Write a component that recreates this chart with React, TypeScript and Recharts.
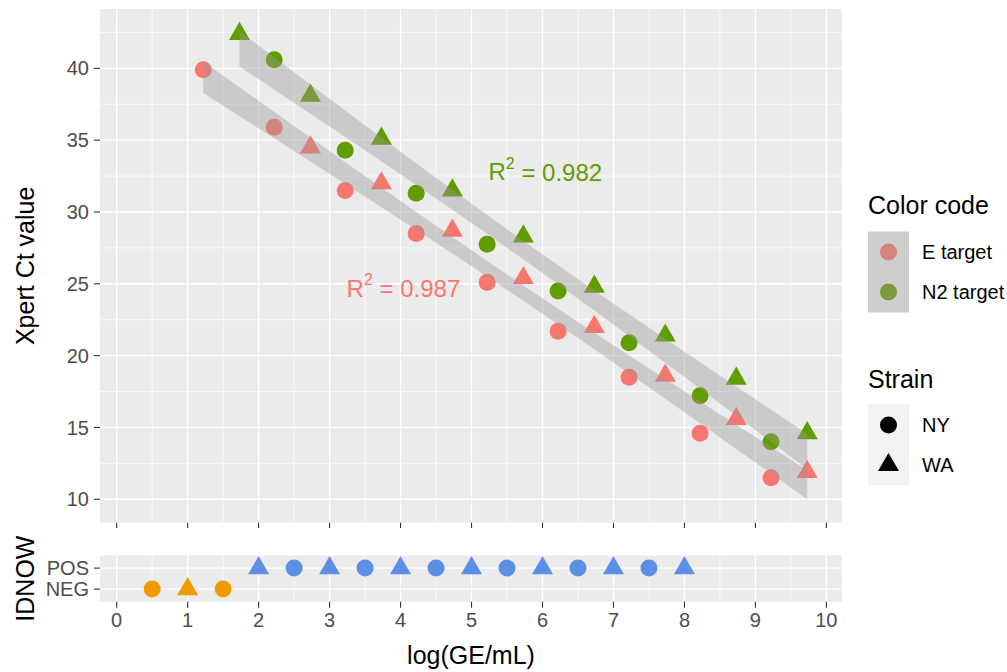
import React from "react";
import { Area, CartesianGrid, ComposedChart, Scatter, XAxis, YAxis } from "recharts";

// x positions, log(GE/mL)
const nyX = [1.22, 2.22, 3.22, 4.22, 5.22, 6.22, 7.22, 8.22, 9.22];
const waX = [1.73, 2.73, 3.73, 4.73, 5.73, 6.73, 7.73, 8.73, 9.73];

// Xpert Ct values (null = no value at that dilution)
const eNY = [39.9, 35.9, 31.5, 28.5, 25.1, 21.7, 18.5, 14.6, 11.5];
const eWA = [null, 34.5, 32.0, 28.7, 25.4, 22.0, 18.6, 15.6, 11.9];
const n2NY = [null, 40.6, 34.3, 31.3, 27.75, 24.5, 20.9, 17.2, 14.0];
const n2WA = [42.4, 38.1, 35.1, 31.5, 28.3, 24.8, 21.4, 18.4, 14.6];

// R² annotations
const r2Text = ["0.987", "0.982"];
const r2Pos = [
  { x: 4.04, y: 24.7 },
  { x: 6.04, y: 32.8 },
];

// IDNOW results
const idnowX = [0.5, 1, 1.5, 2, 2.5, 3, 3.5, 4, 4.5, 5, 5.5, 6, 6.5, 7, 7.5, 8];
const idnowResult = ["NEG", "NEG", "NEG", "POS", "POS", "POS", "POS", "POS", "POS", "POS", "POS", "POS", "POS", "POS", "POS", "POS"];
const idnowStrain = ["NY", "WA", "NY", "WA", "NY", "WA", "NY", "WA", "NY", "WA", "NY", "WA", "NY", "WA", "NY", "WA"];
const idnowLevels = ["NEG", "POS"];

// axis ticks
const xTicks = [0, 1, 2, 3, 4, 5, 6, 7, 8, 9, 10];
const xMinor = [0.5, 1.5, 2.5, 3.5, 4.5, 5.5, 6.5, 7.5, 8.5, 9.5];
const ctTicks = [10, 15, 20, 25, 30, 35, 40];
const ctMinor = [12.5, 17.5, 22.5, 27.5, 32.5, 37.5, 42.5];

const targets = ["E target", "N2 target"];
const targetColors = ["#F8766D", "#619C00"];
const targetKeyColors = ["#D2847F", "#799B3D"];
const strains = ["NY", "WA"];
const idnowColors: Record<string, string> = { NEG: "#EE9A00", POS: "#5D8FE6" };

const FONT = '"Liberation Sans", Arial, sans-serif';
const T_975_DF15 = 2.131; // t quantile for 95% band, n = 17

const pts = (xs: number[], ys: (number | null)[]) =>
  xs.map((x, i) => ({ x, y: ys[i] })).filter((d) => d.y != null) as { x: number; y: number }[];

// lm fit + 95% confidence band like geom_smooth(method = "lm")
function lmBand(data: { x: number; y: number }[]) {
  const n = data.length;
  const xb = data.reduce((s, d) => s + d.x, 0) / n;
  const yb = data.reduce((s, d) => s + d.y, 0) / n;
  let sxx = 0, sxy = 0, syy = 0;
  data.forEach((d) => {
    sxx += (d.x - xb) ** 2;
    sxy += (d.x - xb) * (d.y - yb);
    syy += (d.y - yb) ** 2;
  });
  const b = sxy / sxx;
  const a = yb - b * xb;
  const s = Math.sqrt((syy - b * sxy) / (n - 2));
  const xs = Array.from(new Set(data.map((d) => d.x))).sort((p, q) => p - q);
  return xs.map((x) => {
    const fit = a + b * x;
    const h = T_975_DF15 * s * Math.sqrt(1 / n + (x - xb) ** 2 / sxx);
    return { x, band: [fit - h, fit + h] };
  });
}

function Marker({ cx, cy, fill, tri }: any) {
  if (cx == null || cy == null) return null;
  if (tri) {
    const a = 21;
    const h = (a * Math.sqrt(3)) / 2;
    return <path d={`M${cx},${cy - (2 * h) / 3}L${cx + a / 2},${cy + h / 3}L${cx - a / 2},${cy + h / 3}Z`} fill={fill} />;
  }
  return <circle cx={cx} cy={cy} r={8.5} fill={fill} />;
}

const eData = [...pts(nyX, eNY), ...pts(waX, eWA)];
const n2Data = [...pts(nyX, n2NY), ...pts(waX, n2WA)];
const bands = [lmBand(eData), lmBand(n2Data)];

const idnowData = idnowX.map((x, i) => ({
  x,
  y: idnowLevels.indexOf(idnowResult[i]),
  res: idnowResult[i],
  strain: idnowStrain[i],
}));

const tickStyle = { fill: "#4D4D4D", fontSize: 20 };
const tickLineStyle = { stroke: "#333333", strokeWidth: 1.1 };

export default function App() {
  return (
    <div style={{ position: "absolute", left: 0, top: 0, width: 1007, height: 672, background: "#fff", fontFamily: FONT }}>
      <div style={{ position: "absolute", left: 0, top: 0 }}>
        <ComposedChart width={1007} height={528} margin={{ top: 9, right: 165, bottom: 0, left: 0 }}>
          <CartesianGrid verticalValues={xMinor} horizontalValues={ctMinor} stroke="#FFFFFF" strokeWidth={0.7} fill="#EBEBEB" />
          <CartesianGrid verticalValues={xTicks} horizontalValues={ctTicks} stroke="#FFFFFF" strokeWidth={1.4} />
          <XAxis
            type="number"
            dataKey="x"
            domain={[-0.235, 10.22]}
            allowDataOverflow
            ticks={xTicks}
            interval={0}
            tickFormatter={() => ""}
            height={5.3}
            tickSize={6}
            axisLine={false}
            tickLine={tickLineStyle}
          />
          <YAxis
            type="number"
            dataKey="y"
            domain={[8.37, 44.13]}
            allowDataOverflow
            ticks={ctTicks}
            interval={0}
            width={100}
            tickSize={6}
            tickMargin={5}
            axisLine={false}
            tick={tickStyle}
            tickLine={tickLineStyle}
            label={(p: any) => {
              const vb = p.viewBox;
              const cy = vb.y + vb.height / 2;
              return (
                <text x={25} y={cy} transform={`rotate(-90 25 ${cy})`} textAnchor="middle" dominantBaseline="central" fontSize={25} fill="#000">
                  Xpert Ct value
                </text>
              );
            }}
          />
          <Scatter data={pts(nyX, eNY)} dataKey="y" isAnimationActive={false} shape={(p: any) => <Marker {...p} fill={targetColors[0]} />} />
          <Scatter data={pts(waX, eWA)} dataKey="y" isAnimationActive={false} shape={(p: any) => <Marker {...p} tri fill={targetColors[0]} />} />
          <Scatter data={pts(nyX, n2NY)} dataKey="y" isAnimationActive={false} shape={(p: any) => <Marker {...p} fill={targetColors[1]} />} />
          <Scatter data={pts(waX, n2WA)} dataKey="y" isAnimationActive={false} shape={(p: any) => <Marker {...p} tri fill={targetColors[1]} />} />
          {bands.map((b, i) => (
            <Area
              key={i}
              data={b}
              dataKey="band"
              type="linear"
              stroke="none"
              fill="#999999"
              fillOpacity={0.4}
              dot={false}
              activeDot={false}
              isAnimationActive={false}
              zIndex={700}
            />
          ))}
          {r2Pos.map((p, i) => (
            <Scatter
              key={`r2-${i}`}
              data={[p]}
              dataKey="y"
              isAnimationActive={false}
              zIndex={800}
              shape={(s: any) => (
                <text x={s.cx} y={s.cy} textAnchor="middle" dominantBaseline="central" fontSize={24} fill={targetColors[i]}>
                  R<tspan dy={-9} fontSize={16}>2</tspan>
                  <tspan dy={9}>{` = ${r2Text[i]}`}</tspan>
                </text>
              )}
            />
          ))}
        </ComposedChart>
      </div>

      <div style={{ position: "absolute", left: 0, top: 528 }}>
        <ComposedChart width={1007} height={144} margin={{ top: 27.5, right: 165, bottom: 0, left: 0 }}>
          <CartesianGrid verticalValues={xMinor} horizontal={false} stroke="#FFFFFF" strokeWidth={0.7} fill="#EBEBEB" />
          <CartesianGrid verticalValues={xTicks} horizontalValues={[0, 1]} stroke="#FFFFFF" strokeWidth={1.4} />
          <XAxis
            type="number"
            dataKey="x"
            domain={[-0.235, 10.22]}
            allowDataOverflow
            ticks={xTicks}
            interval={0}
            height={70.3}
            tickSize={6}
            tickMargin={5}
            axisLine={false}
            tick={tickStyle}
            tickLine={tickLineStyle}
            label={(p: any) => {
              const vb = p.viewBox;
              return (
                <text x={vb.x + vb.width / 2} y={vb.y + 53} textAnchor="middle" dominantBaseline="central" fontSize={25} fill="#000">
                  log(GE/mL)
                </text>
              );
            }}
          />
          <YAxis
            type="number"
            dataKey="y"
            domain={[-0.6, 1.6]}
            allowDataOverflow
            ticks={[0, 1]}
            interval={0}
            tickFormatter={(v: number) => idnowLevels[v]}
            width={100}
            tickSize={6}
            tickMargin={5}
            axisLine={false}
            tick={tickStyle}
            tickLine={tickLineStyle}
            label={(p: any) => {
              const vb = p.viewBox;
              const cy = vb.y + vb.height / 2;
              return (
                <text x={25} y={cy} transform={`rotate(-90 25 ${cy})`} textAnchor="middle" dominantBaseline="central" fontSize={25} fill="#000">
                  IDNOW
                </text>
              );
            }}
          />
          <Scatter
            data={idnowData}
            dataKey="y"
            isAnimationActive={false}
            shape={(p: any) => <Marker cx={p.cx} cy={p.cy} tri={p.payload.strain === "WA"} fill={idnowColors[p.payload.res]} />}
          />
        </ComposedChart>
      </div>

      <svg width={1007} height={672} style={{ position: "absolute", left: 0, top: 0, pointerEvents: "none" }}>
        <text x={868} y={205} dominantBaseline="central" fontSize={25} fill="#000">Color code</text>
        <rect x={868} y={231.5} width={41} height={81} fill="#CECECE" />
        {targets.map((t, i) => (
          <g key={t}>
            <Marker cx={888.5} cy={252 + i * 40} fill={targetKeyColors[i]} />
            <text x={922} y={252 + i * 40} dominantBaseline="central" fontSize={20} fill="#000">{t}</text>
          </g>
        ))}
        <text x={868} y={379} dominantBaseline="central" fontSize={25} fill="#000">Strain</text>
        <rect x={868} y={404} width={41} height={81} fill="#F2F2F2" />
        {strains.map((s, i) => (
          <g key={s}>
            <Marker cx={888.5} cy={425 + i * 40} tri={s === "WA"} fill="#000" />
            <text x={922} y={425 + i * 40} dominantBaseline="central" fontSize={20} fill="#000">{s}</text>
          </g>
        ))}
      </svg>
    </div>
  );
}
